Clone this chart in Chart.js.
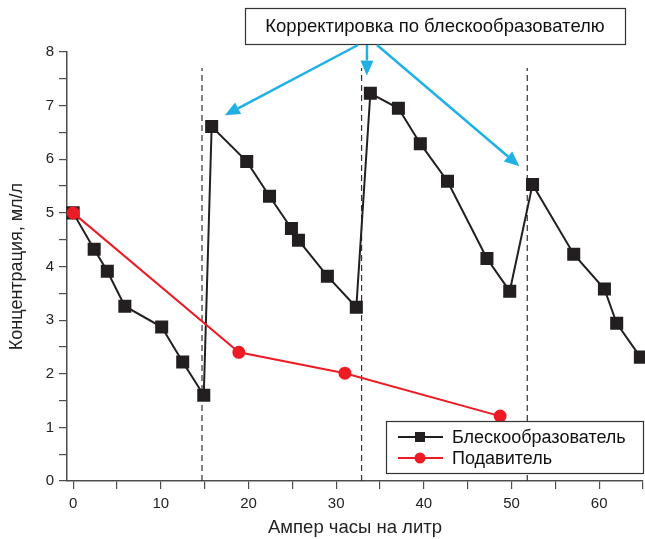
<!DOCTYPE html>
<html>
<head>
<meta charset="utf-8">
<script src="https://cdn.jsdelivr.net/npm/chart.js@4.4.0/dist/chart.umd.min.js"></script>
<style>
  html, body { margin: 0; padding: 0; background: #fff; }
  #grafico { display: block; }
</style>
</head>
<body>
<canvas id="grafico" width="645" height="539"></canvas>
<script>
// Блескообразователь (ампер-часы на литр, концентрация)
const brightenerX = [0, 2.4, 3.9, 5.9, 10.1, 12.5, 14.9, 15.8, 19.8, 22.4, 24.9, 25.7, 29.0, 32.3, 33.9, 37.1, 39.6, 42.7, 47.2, 49.8, 52.4, 57.1, 60.6, 62.0, 64.7];
const brightenerY = [5.0, 4.32, 3.91, 3.26, 2.87, 2.22, 1.60, 6.61, 5.96, 5.31, 4.71, 4.49, 3.82, 3.24, 7.23, 6.95, 6.29, 5.59, 4.15, 3.54, 5.53, 4.23, 3.58, 2.94, 2.31];
// Подавитель
const suppressorX = [0, 18.9, 31.0, 48.7];
const suppressorY = [5.0, 2.40, 2.01, 1.21];
// Моменты корректировки (пунктир)
const correctionX = [14.7, 32.9, 51.8];
const correctionTop = 7.7;
// Куда указывают стрелки
const arrowTipX = [17.3, 33.5, 50.9];
const arrowTipY = [6.82, 7.56, 5.87];

const labelBox = 'Корректировка по блескообразователю';
const legendNames = ['Блескообразователь', 'Подавитель'];

const toPoints = (xs, ys) => xs.map((x, i) => ({ x: x, y: ys[i] }));

const FONT = "'Liberation Sans', Arial, sans-serif";
const AXIS = '#4d4d4d';
const BLACK = '#231f20';
const RED = '#ed1c24';
const CYAN = '#1fb0e6';

const dashedSets = correctionX.map(x => ({
    data: [{ x: x, y: 0 }, { x: x, y: correctionTop }],
    borderColor: '#333',
    borderWidth: 1.2,
    borderDash: [6, 4],
    pointRadius: 0,
    showLine: true,
    order: 5
}));

function arrow(ctx, x1, y1, x2, y2) {
    const ang = Math.atan2(y2 - y1, x2 - x1);
    const len = 15, half = 6.5;
    const bx = x2 - len * Math.cos(ang), by = y2 - len * Math.sin(ang);
    ctx.beginPath();
    ctx.moveTo(x1, y1);
    ctx.lineTo(bx, by);
    ctx.stroke();
    ctx.beginPath();
    ctx.moveTo(x2, y2);
    ctx.lineTo(bx + half * Math.sin(ang), by - half * Math.cos(ang));
    ctx.lineTo(bx - half * Math.sin(ang), by + half * Math.cos(ang));
    ctx.closePath();
    ctx.fill();
}

// Рамка с подписью, стрелки и легенда
const extras = {
    id: 'extras',
    afterDatasetsDraw(chart) {
        const ctx = chart.ctx;
        const xs = chart.scales.x, ys = chart.scales.y;
        const area = chart.chartArea;
        ctx.save();

        // подпись в рамке
        const bx = 245, by = 8, bw = 380, bh = 36;
        ctx.fillStyle = '#fff';
        ctx.fillRect(bx, by, bw, bh);
        ctx.strokeStyle = '#333';
        ctx.lineWidth = 1.2;
        ctx.strokeRect(bx + 0.5, by + 0.5, bw, bh);
        ctx.fillStyle = '#111';
        ctx.font = '18.5px ' + FONT;
        ctx.textAlign = 'center';
        ctx.textBaseline = 'middle';
        ctx.fillText(labelBox, bx + bw / 2, by + bh / 2 + 1);

        // стрелки
        ctx.strokeStyle = CYAN;
        ctx.fillStyle = CYAN;
        ctx.lineWidth = 2.5;
        const starts = [358, 367, 377];
        arrowTipX.forEach((x, i) => {
            arrow(ctx, starts[i], by + bh + 1, xs.getPixelForValue(x), ys.getPixelForValue(arrowTipY[i]));
        });

        // легенда
        const lw = 257, lh = 52;
        const lx = area.right - lw, ly = area.bottom - lh - 8;
        ctx.fillStyle = '#fff';
        ctx.fillRect(lx, ly, lw, lh);
        ctx.strokeStyle = '#333';
        ctx.lineWidth = 1.2;
        ctx.strokeRect(lx + 0.5, ly + 0.5, lw, lh);
        const colors = [BLACK, RED];
        ctx.font = '18px ' + FONT;
        ctx.textAlign = 'left';
        legendNames.forEach((name, i) => {
            const yy = ly + 16 + i * 21;
            ctx.strokeStyle = colors[i];
            ctx.lineWidth = 2;
            ctx.beginPath();
            ctx.moveTo(lx + 12, yy);
            ctx.lineTo(lx + 57, yy);
            ctx.stroke();
            ctx.fillStyle = colors[i];
            if (i === 0) {
                ctx.fillRect(lx + 34 - 5, yy - 5, 10, 10);
            } else {
                ctx.beginPath();
                ctx.arc(lx + 34, yy, 5.5, 0, Math.PI * 2);
                ctx.fill();
            }
            ctx.fillStyle = '#111';
            ctx.fillText(name, lx + 66, yy + 1);
        });
        ctx.restore();
    }
};

new Chart(document.getElementById('grafico'), {
    type: 'scatter',
    data: {
        datasets: [
            {
                label: legendNames[1],
                data: toPoints(suppressorX, suppressorY),
                showLine: true,
                borderColor: RED,
                backgroundColor: RED,
                borderWidth: 2,
                pointStyle: 'circle',
                pointRadius: 5.5,
                clip: false,
                order: 0
            },
            {
                label: legendNames[0],
                data: toPoints(brightenerX, brightenerY),
                showLine: true,
                borderColor: BLACK,
                backgroundColor: BLACK,
                borderWidth: 2,
                pointStyle: 'rect',
                pointRadius: 7.8,
                clip: false,
                order: 1
            },
            ...dashedSets
        ]
    },
    options: {
        responsive: false,
        animation: false,
        layout: { autoPadding: false, padding: { top: 52, right: 2, left: 0, bottom: 0 } },
        plugins: {
            legend: { display: false },
            tooltip: { enabled: false }
        },
        scales: {
            x: {
                type: 'linear',
                min: -0.7,
                max: 65,
                afterFit: s => { s.height = 58; s.paddingLeft = 0; s.paddingRight = 0; },
                border: { color: AXIS, width: 1.5 },
                grid: { drawOnChartArea: false, color: AXIS, tickLength: 8, lineWidth: 1.2 },
                ticks: {
                    stepSize: 5,
                    includeBounds: false,
                    color: '#222',
                    padding: 6,
                    maxRotation: 0,
                    autoSkip: false,
                    font: { family: FONT, size: 15 },
                    callback: v => (v % 10 === 0 ? v : '')
                },
                title: {
                    display: true,
                    text: 'Ампер часы на литр',
                    color: '#222',
                    font: { family: FONT, size: 18.5 },
                    padding: { top: 2, bottom: 0 }
                }
            },
            y: {
                type: 'linear',
                min: 0,
                max: 8,
                afterFit: s => { s.width = 67; },
                border: { color: AXIS, width: 1.5 },
                grid: { drawOnChartArea: false, color: AXIS, tickLength: 8, lineWidth: 1.2 },
                ticks: {
                    stepSize: 0.5,
                    color: '#222',
                    padding: 5,
                    autoSkip: false,
                    font: { family: FONT, size: 15 },
                    callback: v => (Number.isInteger(v) ? v : '')
                },
                title: {
                    display: true,
                    text: 'Концентрация, мл/л',
                    color: '#222',
                    font: { family: FONT, size: 18 },
                    padding: { top: 6, bottom: 0 }
                }
            }
        }
    },
    plugins: [extras]
});
</script>
</body>
</html>
